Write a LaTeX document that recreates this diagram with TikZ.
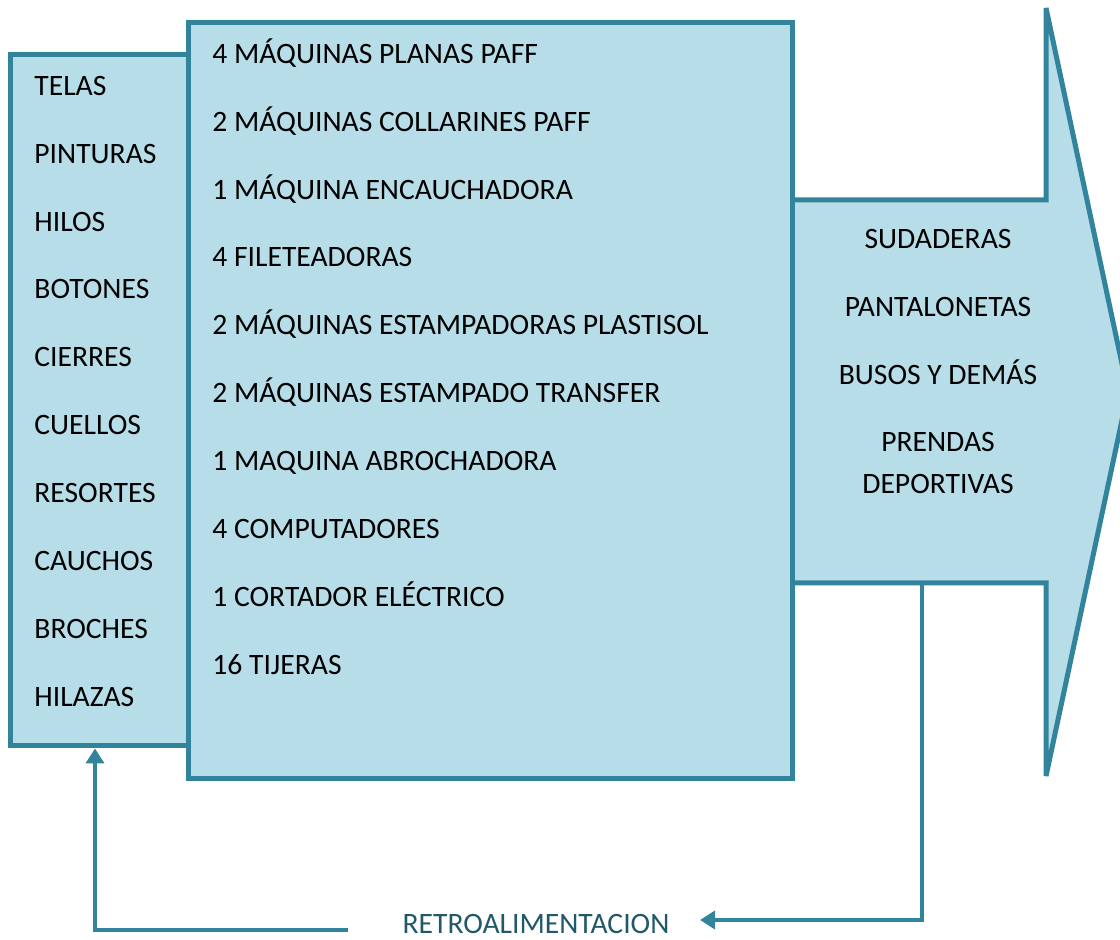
\documentclass[tikz,border=0pt]{standalone}
\usepackage{fontspec}
\setmainfont{Carlito}
\usetikzlibrary{arrows.meta}
\definecolor{boxFill}{HTML}{B7DDE8}
\definecolor{boxLine}{HTML}{31849B}
\definecolor{retroText}{HTML}{215968}
\begin{document}
\begin{tikzpicture}[x=0.5pt,y=-0.5pt,
    box/.style={draw=boxLine,fill=boxFill,line width=2.5pt,inner sep=0pt,outer sep=1.25pt},
    item/.style={anchor=west,inner sep=0pt,text height=9.5pt,text depth=0pt,font=\fontsize{14.8}{17}\selectfont},
    outItem/.style={item,anchor=center},
    flow/.style={draw=boxLine,line width=2.3pt,-{Triangle[length=7.5pt,width=9pt]}}]
    \useasboundingbox (0,0) rectangle (1120,940);

    % output arrow
    \path[draw=boxLine,fill=boxFill,line width=2.5pt,miter limit=4] (792,200) -- (1046,200) -- (1046,8) -- (1128,392) -- (1046,776) -- (1046,583) -- (792,583);
    \coordinate (outBase) at (922,583);

    % boxes
    \node[box,minimum width=89pt,minimum height=345.75pt] (inBox) at (99.5,400.25) {};
    \node[box,minimum width=301.75pt,minimum height=378pt] (procBox) at (490.25,400.5) {};

    % inputs
    \node[item] (telas) at (34,86) {TELAS};
    \node[item] (pinturas) at (34,154) {PINTURAS};
    \node[item] (hilos) at (34,222) {HILOS};
    \node[item] (botones) at (34,289) {BOTONES};
    \node[item] (cierres) at (34,357) {CIERRES};
    \node[item] (cuellos) at (34,425) {CUELLOS};
    \node[item] (resortes) at (34,493) {RESORTES};
    \node[item] (cauchos) at (34,561) {CAUCHOS};
    \node[item] (broches) at (34,629) {BROCHES};
    \node[item] (hilazas) at (34,697) {HILAZAS};

    % process
    \node[item] (planas) at (212,54) {4 MÁQUINAS PLANAS PAFF};
    \node[item] (collarines) at (212,122) {2 MÁQUINAS COLLARINES PAFF};
    \node[item] (encauchadora) at (212,190) {1 MÁQUINA ENCAUCHADORA};
    \node[item] (fileteadoras) at (212,257) {4 FILETEADORAS};
    \node[item] (plastisol) at (212,325) {2 MÁQUINAS ESTAMPADORAS PLASTISOL};
    \node[item] (transfer) at (212,393) {2 MÁQUINAS ESTAMPADO TRANSFER};
    \node[item] (abrochadora) at (212,461) {1 MAQUINA ABROCHADORA};
    \node[item] (computadores) at (212,529) {4 COMPUTADORES};
    \node[item] (cortador) at (212,597) {1 CORTADOR ELÉCTRICO};
    \node[item] (tijeras) at (212,665) {16 TIJERAS};

    % outputs
    \node[outItem] (sudaderas) at (938,239) {SUDADERAS};
    \node[outItem] (pantalonetas) at (938,307) {PANTALONETAS};
    \node[outItem] (busos) at (938,375) {BUSOS Y DEMÁS};
    \node[outItem] (prendas) at (938,442) {PRENDAS};
    \node[outItem] (deportivas) at (938,484) {DEPORTIVAS};

    % feedback
    \node[outItem,text=retroText] (retro) at (536,924) {RETROALIMENTACION};
    \coordinate (retroEnd) at (700,920);
    \coordinate (retroStart) at (348,930);
    \draw[flow] (outBase) |- (retroEnd);
    \draw[flow] (retroStart) -| ([xshift=-2.25pt]inBox.south);

\end{tikzpicture}
\end{document}
